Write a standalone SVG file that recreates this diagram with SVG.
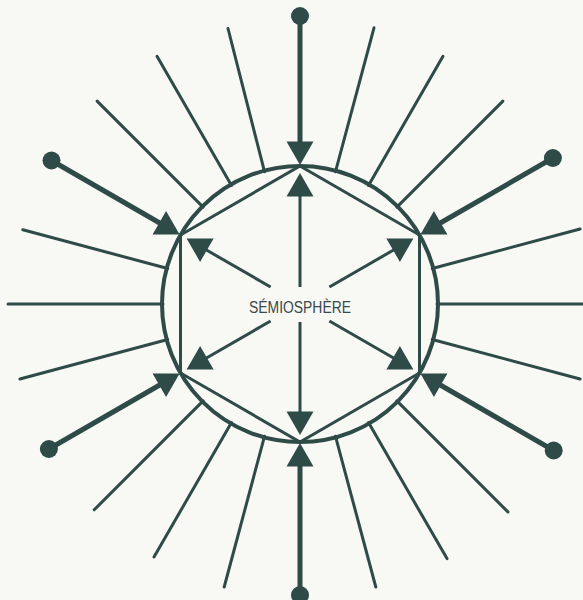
<svg xmlns="http://www.w3.org/2000/svg" xmlns:xlink="http://www.w3.org/1999/xlink" width="583" height="600" viewBox="0 0 583 600">
  <style>
    .ray { stroke: #2f4b47; stroke-width: 3; stroke-linecap: round; fill: none; }
    .shaft { stroke: #2f4b47; stroke-width: 5; stroke-linecap: round; fill: none; }
    .inner { stroke: #2f4b47; stroke-width: 3; fill: none; }
    .ring { stroke: #2f4b47; stroke-width: 4; fill: none; }
    .hex { stroke: #2f4b47; stroke-width: 3; fill: none; stroke-linejoin: miter; }
    .dot { fill: #2f4b47; }
    .head { fill: #2f4b47; }
    .label { font-family: "Liberation Sans", Arial, sans-serif; font-size: 16px; fill: #3a4a48; }
  </style>
  <defs>
    <polygon id="tri" points="0,0 -23.4,-13.5 -23.4,13.5"/>
  </defs>
  <rect x="0" y="0" width="583" height="600" fill="#f8f8f5"/>

  <g id="connectors">
    <g id="rays">
      <line class="ray" x1="335.5" y1="171.7" x2="374" y2="27.8"/>
      <line class="ray" x1="368.5" y1="185.4" x2="443" y2="56.3"/>
      <line class="ray" x1="396.9" y1="207.1" x2="502.9" y2="101.1"/>
      <line class="ray" x1="432.3" y1="268.5" x2="580.1" y2="229"/>
      <line class="ray" x1="437" y1="304" x2="586" y2="304"/>
      <line class="ray" x1="432.3" y1="339.5" x2="580.1" y2="379"/>
      <line class="ray" x1="396.9" y1="400.9" x2="507.9" y2="511.9"/>
      <line class="ray" x1="368.5" y1="422.6" x2="447" y2="558.6"/>
      <line class="ray" x1="335.5" y1="436.3" x2="375.8" y2="587"/>
      <line class="ray" x1="264.5" y1="436.3" x2="224.2" y2="587"/>
      <line class="ray" x1="231.5" y1="422.6" x2="154" y2="556.9"/>
      <line class="ray" x1="203.1" y1="400.9" x2="94.2" y2="509.8"/>
      <line class="ray" x1="167.7" y1="339.5" x2="19.9" y2="379"/>
      <line class="ray" x1="163" y1="304" x2="8" y2="304"/>
      <line class="ray" x1="167.7" y1="268.5" x2="22.8" y2="229.7"/>
      <line class="ray" x1="203.1" y1="207.1" x2="97.1" y2="101.1"/>
      <line class="ray" x1="231.5" y1="185.4" x2="157" y2="56.3"/>
      <line class="ray" x1="264.5" y1="171.7" x2="228" y2="28.5"/>
    </g>
    <g id="incoming">
      <line class="shaft" x1="300" y1="16" x2="300" y2="154"/>
      <line class="shaft" x1="552.9" y1="158" x2="429.9" y2="229"/>
      <line class="shaft" x1="553.7" y1="450.5" x2="429.9" y2="379"/>
      <line class="shaft" x1="300" y1="595" x2="300" y2="454"/>
      <line class="shaft" x1="48.9" y1="449" x2="170.1" y2="379"/>
      <line class="shaft" x1="51.5" y1="160.5" x2="170.1" y2="229"/>
      <use href="#tri" class="head" transform="translate(300,165) rotate(90)"/>
      <use href="#tri" class="head" transform="translate(300,443) rotate(-90)"/>
      <use href="#tri" class="head" transform="translate(420.4,234.5) rotate(150)"/>
      <use href="#tri" class="head" transform="translate(420.4,373.5) rotate(-150)"/>
      <use href="#tri" class="head" transform="translate(179.6,373.5) rotate(-30)"/>
      <use href="#tri" class="head" transform="translate(179.6,234.5) rotate(30)"/>
    </g>
    <g id="outgoing">
      <line class="inner" x1="300" y1="189" x2="300" y2="287"/>
      <line class="inner" x1="300" y1="322" x2="300" y2="419"/>
      <line class="inner" x1="399.6" y1="246.5" x2="329.4" y2="287"/>
      <line class="inner" x1="399.6" y1="361.5" x2="329.4" y2="321"/>
      <line class="inner" x1="200.4" y1="361.5" x2="270.6" y2="321"/>
      <line class="inner" x1="200.4" y1="246.5" x2="270.6" y2="287"/>
      <use href="#tri" class="head" transform="translate(300,173) rotate(-90)"/>
      <use href="#tri" class="head" transform="translate(300,435) rotate(90)"/>
      <use href="#tri" class="head" transform="translate(413.4,238.5) rotate(-30)"/>
      <use href="#tri" class="head" transform="translate(413.4,369.5) rotate(30)"/>
      <use href="#tri" class="head" transform="translate(186.6,369.5) rotate(150)"/>
      <use href="#tri" class="head" transform="translate(186.6,238.5) rotate(-150)"/>
    </g>
  </g>

  <g id="semiosphere">
    <circle class="ring" cx="300" cy="304" r="138"/>
    <polygon class="hex" points="300,166 419.5,235 419.5,373 300,442 180.5,373 180.5,235"/>
    <text class="label" x="300" y="313" text-anchor="middle" textLength="102" lengthAdjust="spacingAndGlyphs">SÉMIOSPHÈRE</text>
  </g>

  <g id="source-top"><circle class="dot" cx="300" cy="16" r="9"/></g>
  <g id="source-upper-right"><circle class="dot" cx="552.9" cy="158" r="9"/></g>
  <g id="source-lower-right"><circle class="dot" cx="553.7" cy="450.5" r="9"/></g>
  <g id="source-bottom"><circle class="dot" cx="300" cy="595" r="9"/></g>
  <g id="source-lower-left"><circle class="dot" cx="48.9" cy="449" r="9"/></g>
  <g id="source-upper-left"><circle class="dot" cx="51.5" cy="160.5" r="9"/></g>
</svg>
